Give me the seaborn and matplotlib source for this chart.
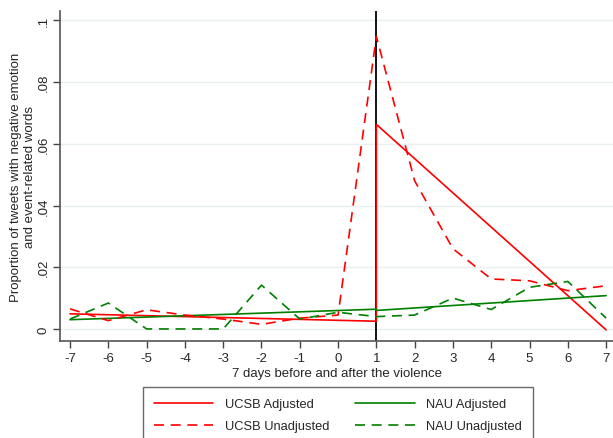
import matplotlib
matplotlib.use('Agg')
import matplotlib.pyplot as plt
import seaborn as sns
import pandas as pd

# days relative to the violence
days = [-7, -6, -5, -4, -3, -2, -1, 0, 1, 2, 3, 4, 5, 6, 7]

# unadjusted daily proportions
ucsb_unadj = [0.0065, 0.0027, 0.0062, 0.0045, 0.0032, 0.0015, 0.0035, 0.0045,
              0.0948, 0.048, 0.026, 0.0162, 0.0156, 0.0124, 0.014]
nau_unadj = [0.0032, 0.0084, 0.0, 0.0, 0.0, 0.0142, 0.0032, 0.0054,
             0.004, 0.0045, 0.010, 0.0063, 0.0135, 0.0154, 0.0035]

# adjusted fits (before / after the break at day 1)
adj_days = [-7, 1, 1, 7]
ucsb_adj = [0.0049, 0.0025, 0.0663, -0.0003]
nau_adj = [0.0030, 0.0064, 0.0060, 0.0108]

yticks = [0, 0.02, 0.04, 0.06, 0.08, 0.1]
ytick_labels = ['0', '.02', '.04', '.06', '.08', '.1']

sns.set_style('white')
plt.rcParams['font.family'] = ['Liberation Sans', 'DejaVu Sans']

fig = plt.figure(figsize=(6.13, 4.39), dpi=100)
ax = fig.add_axes([0.098, 0.221, 0.902, 0.752])

for y in yticks:
    ax.axhline(y, color='#eaf0f2', lw=1.0, zorder=0)

ax.axvline(1, color='black', lw=1.3, zorder=1)

lw = 1.2
sns.lineplot(x=adj_days, y=ucsb_adj, color='red', lw=lw, ax=ax,
             estimator=None, sort=False, label='UCSB Adjusted')
sns.lineplot(x=adj_days, y=nau_adj, color='green', lw=lw, ax=ax,
             estimator=None, sort=False, label='NAU Adjusted')
sns.lineplot(x=days, y=ucsb_unadj, color='red', lw=lw, ax=ax,
             estimator=None, sort=False, label='UCSB Unadjusted',
             dashes=False, linestyle=(0, (6, 4)))
sns.lineplot(x=days, y=nau_unadj, color='green', lw=lw, ax=ax,
             estimator=None, sort=False, label='NAU Unadjusted',
             dashes=False, linestyle=(0, (6, 4)))

ax.set_xlim(-7.26, 7.18)
ax.set_ylim(-0.0039, 0.1031)
ax.set_xticks(days)
ax.set_xticklabels([str(d) for d in days], fontsize=9.5)
ax.set_yticks(yticks)
ax.set_yticklabels(ytick_labels, fontsize=9.5, rotation=90, va='center')
ax.tick_params(axis='both', direction='out', length=5, width=1, color='#444444',
               left=True, bottom=True, pad=3)
ax.tick_params(axis='y', pad=2.5)

for s in ['top', 'right']:
    ax.spines[s].set_visible(False)
for s in ['left', 'bottom']:
    ax.spines[s].set_color('#555555')
    ax.spines[s].set_linewidth(1.2)

ax.set_xlabel('7 days before and after the violence', fontsize=9.5, labelpad=2)
ax.set_ylabel('Proportion of tweets with negative emotion\nand event-related words',
              fontsize=9.5)
ax.yaxis.set_label_coords(-0.044, 0.5)

handles, labels = ax.get_legend_handles_labels()
ax.get_legend().remove()
order = [0, 2, 1, 3]
leg = fig.legend([handles[i] for i in order], [labels[i] for i in order],
                 ncol=2, loc='upper left', bbox_to_anchor=(143 / 613, 1 - 388 / 439),
                 borderaxespad=0, frameon=True, fancybox=False, edgecolor='#444444',
                 fontsize=9.3, handlelength=4.6, columnspacing=2.0, handletextpad=0.9,
                 borderpad=0.85, labelspacing=0.8)
leg.get_frame().set_linewidth(1.0)

fig.savefig('out.png', dpi=100)
